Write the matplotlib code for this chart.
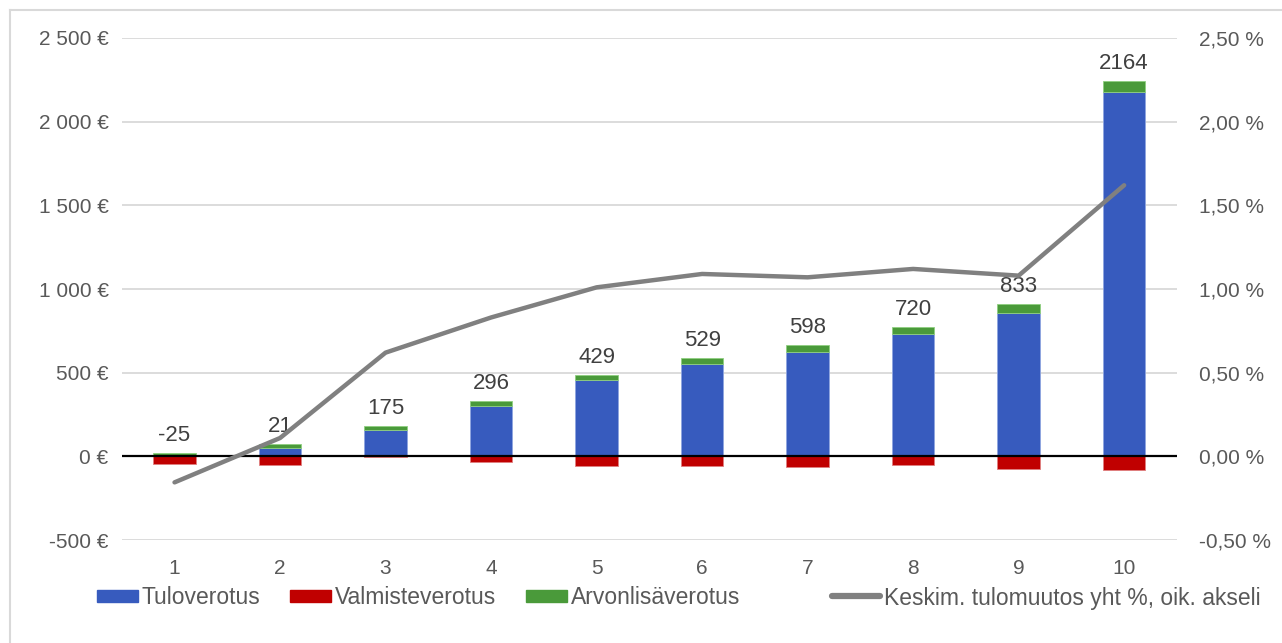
import numpy as np
import matplotlib.pyplot as plt
from matplotlib.ticker import FuncFormatter
from matplotlib.lines import Line2D
from matplotlib.patches import Patch

plt.rcParams['font.family'] = ['Liberation Sans', 'DejaVu Sans']

# ==== Data ====
kymmenys = ["1", "2", "3", "4", "5", "6", "7", "8", "9", "10"]
tuloverotus = [2, 52, 158, 303, 458, 550, 622, 730, 855, 2175]
valmisteverotus = [-45, -53, -3, -35, -57, -57, -66, -52, -78, -79]
arvonlisaverotus = [18, 22, 22, 28, 28, 36, 42, 42, 56, 68]
yhteensa = [-25, 21, 175, 296, 429, 529, 598, 720, 833, 2164]
tulomuutos_pct = [-0.155, 0.11, 0.62, 0.83, 1.01, 1.09, 1.07, 1.12, 1.08, 1.62]

c_blue = '#375BBE'
c_red = '#C00000'
c_green = '#4A9A3A'
c_line = '#808080'
c_text = '#595959'

x = np.arange(len(kymmenys))
w = 0.405

W, H = 1282, 643
fig = plt.figure(figsize=(W / 100, H / 100), dpi=100)

# kaavion kehys (vain ylä- ja vasen reuna näkyvät)
fig.add_artist(Line2D([10 / W, 1], [1 - 10 / H, 1 - 10 / H], color='#d9d9d9', linewidth=1.5))
fig.add_artist(Line2D([10 / W, 10 / W], [0, 1 - 10 / H], color='#d9d9d9', linewidth=1.5))

ax = fig.add_axes([0.095, 0.160, 0.823, 0.781])
ax2 = ax.twinx()

ax.bar(x, tuloverotus, w, color=c_blue, edgecolor='#8fa6e0', linewidth=0.6, zorder=3)
ax.bar(x, arvonlisaverotus, w, bottom=tuloverotus, color=c_green, edgecolor='#8fcf80', linewidth=0.6, zorder=3)
ax.bar(x, valmisteverotus, w, color=c_red, edgecolor='#e08080', linewidth=0.6, zorder=3)
ax.axhline(0, color='black', linewidth=1.6, zorder=4)

# arvot pinon päälle
for xi, b, g, s in zip(x, tuloverotus, arvonlisaverotus, yhteensa):
    top = max(b, 0) + g
    ax.annotate(str(s), (xi, top), xytext=(0, 5), textcoords='offset points',
                ha='center', va='bottom', fontsize=16, color='#404040')

ax.set_xlim(-0.5, len(x) - 0.5)
ax.set_ylim(-500, 2500)
ax.set_yticks(np.arange(-500, 2501, 500))
ax.yaxis.set_major_formatter(FuncFormatter(lambda v, p: f"{int(v):,} €".replace(",", " ")))
ax.set_xticks(x)
ax.set_xticklabels(kymmenys)
ax.grid(axis='y', color='#d9d9d9', linewidth=1.3, zorder=0)
ax.set_axisbelow(True)

ax2.plot(x, tulomuutos_pct, color=c_line, linewidth=3.2, solid_capstyle='round', zorder=5)
ax2.set_ylim(-0.5, 2.5)
ax2.set_yticks(np.arange(-0.5, 2.51, 0.5))
ax2.yaxis.set_major_formatter(FuncFormatter(lambda v, p: f"{v:.2f} %".replace(".", ",")))

for a in (ax, ax2):
    for sp in a.spines.values():
        sp.set_visible(False)
    a.tick_params(length=0, labelsize=15, colors=c_text)
ax.tick_params(axis='x', pad=13.5)
ax.tick_params(axis='y', pad=9.5)
ax2.tick_params(axis='y', pad=16)

handles = [Patch(color=c_blue, label='Tuloverotus'),
           Patch(color=c_red, label='Valmisteverotus'),
           Patch(color=c_green, label='Arvonlisäverotus')]
fig.legend(handles=handles, loc='center left', bbox_to_anchor=(97 / W, 1 - 598 / H), ncol=3,
           frameon=False, fontsize=16.5, labelcolor=c_text, handlelength=1.8, handleheight=0.45,
           handletextpad=0.15, columnspacing=1.3, borderpad=0, borderaxespad=0)
line_h = [Line2D([], [], color=c_line, linewidth=4.5, solid_capstyle='round',
                 label='Keskim. tulomuutos yht %, oik. akseli')]
fig.legend(handles=line_h, loc='center left', bbox_to_anchor=(832 / W, 1 - 598 / H), frameon=False,
           fontsize=16.5, labelcolor=c_text, handlelength=2.1, handletextpad=0.15,
           borderpad=0, borderaxespad=0)

fig.savefig('out.png', dpi=100)
